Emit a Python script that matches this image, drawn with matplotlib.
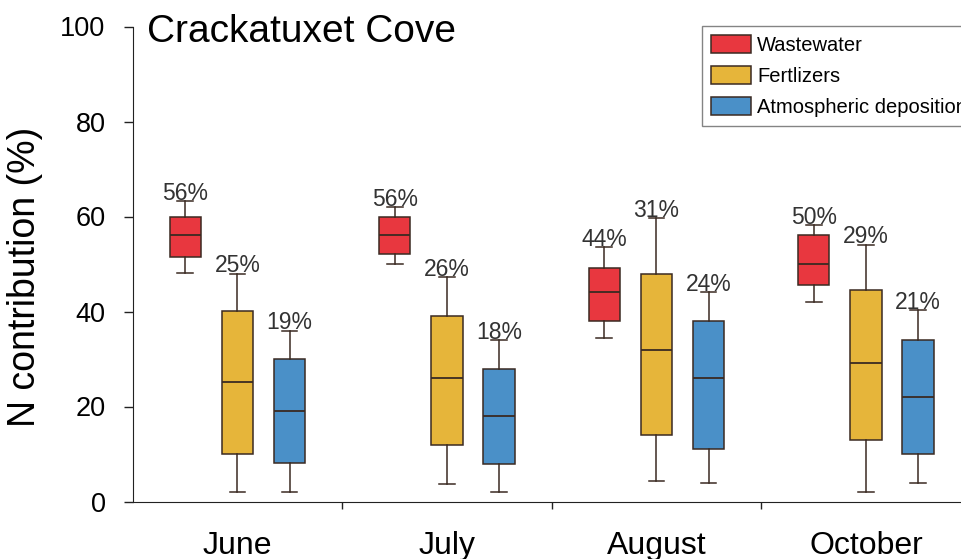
import numpy as np
import matplotlib.pyplot as plt
from matplotlib.patches import Patch

plt.rcParams["font.family"] = ["Liberation Sans", "DejaVu Sans"]

# Months and nitrogen sources
months = ["June", "July", "August", "October"]
sources = ["Wastewater", "Fertlizers", "Atmospheric deposition"]
colors = ["#E8373F", "#E6B53A", "#4A90C8"]

# Box statistics per source, one value per month (N contribution, %)
ww_whislo = [48.2, 50.1, 34.5, 41.9]
ww_q1 = [51.5, 52.1, 38.1, 45.6]
ww_med = [56.2, 56.2, 44.2, 50.1]
ww_q3 = [60.0, 60.0, 49.2, 56.1]
ww_whishi = [63.2, 62.0, 53.6, 58.2]

fe_whislo = [2.0, 3.6, 4.4, 2.0]
fe_q1 = [10.0, 12.0, 14.1, 12.9]
fe_med = [25.1, 26.0, 32.0, 29.1]
fe_q3 = [40.2, 39.1, 48.0, 44.5]
fe_whishi = [48.0, 47.2, 59.6, 54.1]

at_whislo = [2.0, 2.0, 4.0, 3.8]
at_q1 = [8.1, 8.0, 11.0, 10.0]
at_med = [19.0, 18.1, 26.0, 22.1]
at_q3 = [30.1, 28.0, 38.1, 34.0]
at_whishi = [36.0, 34.0, 44.1, 40.3]

# Median labels printed above each box
ww_labels = ["56%", "56%", "44%", "50%"]
fe_labels = ["25%", "26%", "31%", "29%"]
at_labels = ["19%", "18%", "24%", "21%"]

series = [
    (ww_whislo, ww_q1, ww_med, ww_q3, ww_whishi, ww_labels),
    (fe_whislo, fe_q1, fe_med, fe_q3, fe_whishi, fe_labels),
    (at_whislo, at_q1, at_med, at_q3, at_whishi, at_labels),
]

fig = plt.figure(figsize=(9.62, 5.59), dpi=100)
ax = fig.add_axes([132.7 / 962, 57.5 / 559, 838 / 962, 475 / 559])

offsets = [-0.249, 0.0, 0.249]
edge = "#3a2a22"
for k, (lo, q1, med, q3, hi, labels) in enumerate(series):
    stats = []
    for i in range(len(months)):
        stats.append({"whislo": lo[i], "q1": q1[i], "med": med[i],
                      "q3": q3[i], "whishi": hi[i], "fliers": []})
    pos = np.arange(len(months)) + 0.5 + offsets[k]
    ax.bxp(stats, positions=pos, widths=0.15, patch_artist=True,
           showfliers=False, manage_ticks=False,
           boxprops=dict(facecolor=colors[k], edgecolor=edge, linewidth=1.1),
           medianprops=dict(color=edge, linewidth=1.3),
           whiskerprops=dict(color=edge, linewidth=1.1),
           capprops=dict(color=edge, linewidth=1.1))
    for i in range(len(months)):
        ax.annotate(labels[i], (pos[i], hi[i]), xytext=(0, 1),
                    textcoords="offset points", ha="center", va="baseline",
                    fontsize=16.5, color="#333333")

ax.set_xlim(0, 4)
ax.set_ylim(0, 100)
ax.spines["top"].set_visible(False)
ax.spines["right"].set_visible(False)
ax.spines["left"].set_color("#222222")
ax.spines["bottom"].set_color("#222222")

ax.set_yticks([0, 20, 40, 60, 80, 100])
ax.tick_params(axis="y", direction="out", length=6.5, width=1, pad=13,
               labelsize=19.5, color="#222222")
ax.set_xticks([1, 2, 3])
ax.set_xticklabels([])
ax.tick_params(axis="x", which="major", direction="out", length=5, width=1,
               color="#222222")
ax.set_xticks(np.arange(len(months)) + 0.5, minor=True)
ax.set_xticklabels(months, minor=True)
ax.tick_params(axis="x", which="minor", length=0, pad=21, labelsize=23)

ax.set_ylabel("N contribution (%)", fontsize=27)
ax.yaxis.set_label_coords(-0.107, 0.4737)
ax.annotate("Crackatuxet Cove", (0.07, 100), xytext=(0, -4),
            textcoords="offset points", fontsize=28, ha="left", va="center")

handles = [Patch(facecolor=c, edgecolor=edge, linewidth=1.1) for c in colors]
leg = fig.legend(handles, sources, loc="upper left",
                 bbox_to_anchor=(702 / 962, 1 - 25.7 / 559), borderaxespad=0,
                 fontsize=14.5, fancybox=False, frameon=True, borderpad=0.45,
                 handlelength=2.0, handleheight=1.0, handletextpad=0.3,
                 labelspacing=0.55)
leg.get_frame().set_edgecolor("#666666")
leg.get_frame().set_linewidth(1.0)

fig.savefig("out.png", dpi=100)
